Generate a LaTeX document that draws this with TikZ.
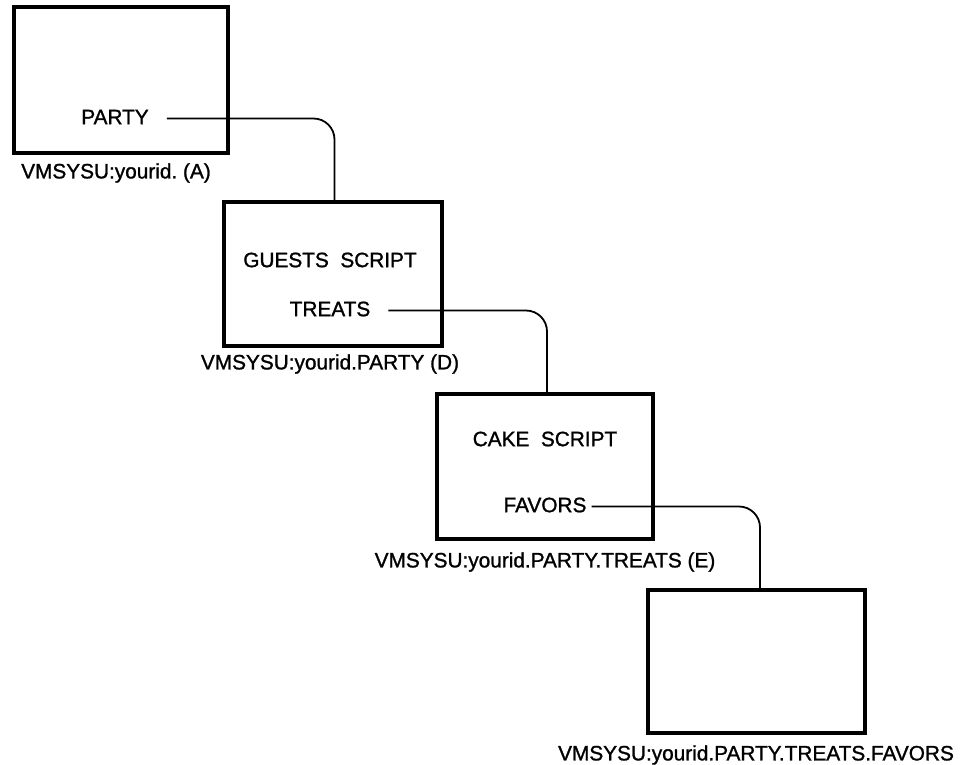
\documentclass[tikz,border=0pt]{standalone}
\usepackage{fontspec}
\setmainfont{Liberation Sans}[FakeBold=1.2]
\begin{document}
\begin{tikzpicture}[x=1pt,y=-1pt,
  dirbox/.style={draw,line width=3.2pt,inner sep=0pt,minimum width=#1},
  txt/.style={inner sep=0pt,font=\fontsize{20.8}{24}\selectfont},
  link/.style={line width=1.8pt,rounded corners=21pt}]
\useasboundingbox (0,0) rectangle (971,764);

% directory boxes
\node[dirbox=214pt,minimum height=146pt] (A) at (121,80) {};
\node[dirbox=218pt,minimum height=144pt] (D) at (333,274) {};
\node[dirbox=216pt,minimum height=145pt] (E) at (545,466.5) {};
\node[dirbox=217pt,minimum height=143pt] (F) at (756.5,661.5) {};

% entries inside the boxes
\node[txt] (party) at (115,117) {PARTY};
\node[txt] (guests) at (330,260) {GUESTS\ \ SCRIPT};
\node[txt] (treats) at (330,309) {TREATS};
\node[txt] (cake) at (545,439) {CAKE\ \ SCRIPT};
\node[txt] (favors) at (545,505) {FAVORS};

% directory names
\node[txt] (la) at (116,173) {VMSYSU:yourid.\ (A)};
\node[txt] (ld) at (330,364) {VMSYSU:yourid.PARTY (D)};
\node[txt] (le) at (545,562) {VMSYSU:yourid.PARTY.TREATS (E)};
\node[txt] (lf) at (756,755) {VMSYSU:yourid.PARTY.TREATS.FAVORS};

% links from an entry to its subdirectory
\coordinate (pa) at ([xshift=18pt,yshift=-1.5pt]party.east);
\coordinate (tr) at ([xshift=18pt,yshift=-1.5pt]treats.east);
\coordinate (fa) at ([xshift=5pt,yshift=-1.5pt]favors.east);
\draw[link] (pa) -| ([xshift=1.5pt]D.north);
\draw[link] (tr) -| ([xshift=2pt]E.north);
\draw[link] (fa) -| ([xshift=3.5pt]F.north);
\end{tikzpicture}
\end{document}
